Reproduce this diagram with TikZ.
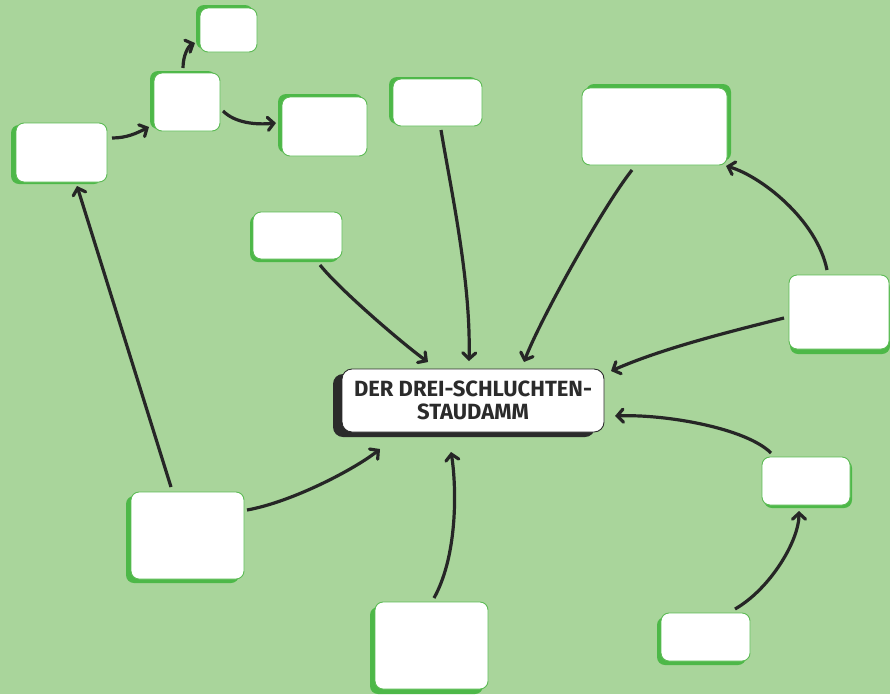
\documentclass[tikz,border=0pt]{standalone}
\usepackage{fontspec}
\setsansfont{Fira Sans}
\usetikzlibrary{arrows.meta,shadows}
\definecolor{bg}{RGB}{169,213,155}
\definecolor{gshadow}{RGB}{77,184,72}
\definecolor{gborder}{RGB}{93,187,85}
\definecolor{arrc}{RGB}{38,38,38}
\definecolor{txt}{RGB}{43,43,43}
\tikzset{
  gbox/.style 2 args={draw=gborder, line width=0.9pt, fill=white, rounded corners=8pt, inner sep=0pt,
    general shadow={fill=gshadow, shadow xshift=#1, shadow yshift=#2}},
  cbox/.style={draw=txt, line width=0.9pt, fill=white, rounded corners=10pt, inner sep=0pt,
    general shadow={fill=txt, shadow xshift=-9pt, shadow yshift=-5pt}},
  arr/.style={draw=arrc, line width=3.2pt, -{Straight Barb[length=6pt,width=13pt,line cap=round]}}
}
\begin{document}
\begin{tikzpicture}[x=1pt,y=-1pt]
\fill[bg] (0,0) rectangle (890,694);
\useasboundingbox (0,0) rectangle (890,694);
% boxes
\node[gbox={-4pt}{3pt}, minimum width=57pt, minimum height=44pt] (b1) at (228.5,30) {};
\node[gbox={-4pt}{2pt}, minimum width=66pt, minimum height=58pt] (b2) at (187,102) {};
\node[gbox={-4pt}{3pt}, minimum width=85pt, minimum height=59pt] (b3) at (324.5,126.5) {};
\node[gbox={-5pt}{-2pt}, minimum width=91pt, minimum height=59pt] (b4) at (61.5,152.5) {};
\node[gbox={-3pt}{-3pt}, minimum width=89pt, minimum height=47pt] (b5) at (297.5,235.5) {};
\node[gbox={-4pt}{2pt}, minimum width=89pt, minimum height=47pt] (b6) at (437.5,102.5) {};
\node[gbox={4pt}{4pt}, minimum width=145pt, minimum height=77pt] (b7) at (654.5,126.5) {};
\node[gbox={1pt}{-5pt}, minimum width=100pt, minimum height=74pt] (b8) at (839,312) {};
\node[gbox={2pt}{-3pt}, minimum width=88pt, minimum height=48pt] (b9) at (806,481) {};
\node[gbox={-4pt}{-4pt}, minimum width=89pt, minimum height=48pt] (b10) at (705.5,637) {};
\node[gbox={-5pt}{-5pt}, minimum width=113pt, minimum height=87pt] (b11) at (431.5,645.5) {};
\node[gbox={-5pt}{-4pt}, minimum width=113pt, minimum height=87pt] (b12) at (187.5,535.5) {};
\node[cbox, minimum width=262pt, minimum height=63pt, align=center, text=txt,
  font=\sffamily\bfseries\fontsize{22}{23}\selectfont] (c) at (473,400.5) {DER DREI-SCHLUCHTEN-\\STAUDAMM};
% connectors
\draw[arr] ([shift={(50.5,-14.5)}]b4.center) .. controls +(15,0) and +(-12,6) .. ([shift={(-38,25)}]b2.center);
\draw[arr] ([shift={(-4,-34)}]b2.center) .. controls +(0,-12) and +(-7,3) .. ([shift={(-33.5,13)}]b1.center);
\draw[arr] ([shift={(36,9)}]b2.center) .. controls +(12,12) and +(-20,2) .. ([shift={(-48.5,-3.5)}]b3.center);
\draw[arr] ([shift={(-16.5,-48.5)}]b12.center) -- ([shift={(15.5,33.5)}]b4.center);
\draw[arr] ([shift={(22.5,29.5)}]b5.center) .. controls +(20,25) and +(-25,-18) .. ([shift={(-45,-38.5)}]c.center);
\draw[arr] ([shift={(3.5,27.5)}]b6.center) .. controls +(10,60) and +(2,-80) .. ([shift={(-4,-39.5)}]c.center);
\draw[arr] ([shift={(-22.5,43.5)}]b7.center) .. controls +(-30,38) and +(15,-40) .. ([shift={(51,-38.5)}]c.center);
\draw[arr] ([shift={(-55,6)}]b8.center) .. controls +(-60,15) and +(50,-22) .. ([shift={(138,-29.5)}]c.center);
\draw[arr] ([shift={(-12,-42)}]b8.center) .. controls +(-10,-50) and +(35,10) .. ([shift={(71.5,39.5)}]b7.center);
\draw[arr] ([shift={(-35,-28)}]b9.center) .. controls +(-25,-25) and +(50,-2) .. ([shift={(142,15.5)}]c.center);
\draw[arr] ([shift={(29.5,-28)}]b10.center) .. controls +(35,-20) and +(0,30) .. ([shift={(-7,30)}]b9.center);
\draw[arr] ([shift={(2.5,-47.5)}]b11.center) .. controls +(25,-45) and +(5,30) .. ([shift={(-22,51.5)}]c.center);
\draw[arr] ([shift={(59.5,-25.5)}]b12.center) .. controls +(45,-8) and +(-25,20) .. ([shift={(-93,48.5)}]c.center);
\end{tikzpicture}
\end{document}
